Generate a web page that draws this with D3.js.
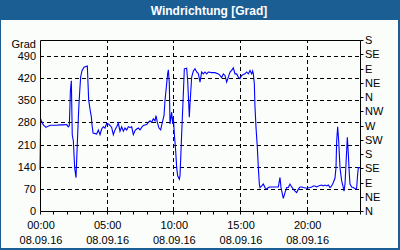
<!DOCTYPE html>
<html><head><meta charset="utf-8">
<script src="https://cdn.jsdelivr.net/npm/d3@7"></script>
<style>
html,body{margin:0;padding:0;background:#fff;}
svg{display:block;}
text{font-family:"Liberation Sans",Arial,sans-serif;font-size:11px;fill:#000;}
</style></head>
<body>
<svg id="c" width="400" height="250"></svg>
<script>
const title = "Windrichtung [Grad]";
const yUnit = "Grad";
const leftTicks = [0,70,140,210,280,350,420,490];
const rightTickValues = [0,45,90,135,180,225,270,315,360,405,450,495,540];
const rightTickLabels = ["N","NE","E","SE","S","SW","W","NW","N","NE","E","SE","S"];
const xTickHours = [0,5,10,15,20];
const xTickLabels = ["00:00","05:00","10:00","15:00","20:00"];
const xDateLabel = "08.09.16";

// time in hours of day (08.09.16)
const hours = [0,0.05,0.1,0.25,0.45,0.6,0.8,1.0,1.25,1.5,1.75,2.0,2.125,2.2,2.28,2.35,2.42,2.5,2.6,2.7,2.8,2.9,2.97,3.05,3.15,3.3,3.55,3.6,3.65,3.78,3.85,3.9,3.98,4.25,4.375,4.5,4.625,4.75,4.875,5.0,5.125,5.25,5.375,5.5,5.625,5.75,5.875,6.0,6.125,6.25,6.375,6.5,6.625,6.75,6.875,7.0,7.125,7.25,7.375,7.5,7.625,7.75,8.0,8.125,8.25,8.375,8.5,8.625,8.7,8.8,8.925,9.05,9.175,9.3,9.375,9.5,9.575,9.625,9.7,9.75,9.875,9.95,10.0,10.075,10.175,10.25,10.325,10.45,10.5,10.625,10.75,10.825,11.0,11.075,11.2,11.25,11.375,11.5,11.625,11.75,11.875,11.95,
12.0,12.125,12.25,12.375,12.5,12.625,12.875,13.125,13.375,13.5,13.625,13.75,13.875,14.0,14.125,14.25,14.375,14.5,14.625,14.75,14.875,15.0,15.125,15.25,15.375,15.5,15.625,15.75,15.875,15.95,16.0,16.075,16.125,16.2,16.3,16.375,16.45,16.5,16.625,16.75,16.875,17.0,17.125,17.25,17.5,17.75,17.875,18.0,18.075,18.25,18.375,18.5,18.625,18.75,18.875,19.0,19.125,19.25,19.375,19.5,19.625,19.75,20.0,20.25,20.375,20.5,20.625,20.75,20.875,21.125,21.25,21.375,21.5,21.625,21.75,21.875,22.0,22.125,22.2,22.25,22.325,22.4,22.5,22.625,22.75,22.8,22.875,22.95,23.05,23.125,23.2,23.25,23.375,23.5,23.7,23.75,23.825,23.875,24.0];
const direction = [130,291,285,272,264,268,271,271,271,272,272,273,266,270,380,411,240,222,137,105,214,319,372,424,443,454,458,404,351,314,298,272,246,243,256,241,259,266,262,277,275,270,264,241,256,266,277,252,266,252,262,256,266,264,266,241,254,259,262,256,264,270,273,280,285,280,291,285,301,280,262,256,280,301,349,402,434,446,402,275,312,275,296,243,190,137,111,100,111,243,370,449,451,412,296,338,423,442,449,439,434,418,
407,439,433,439,433,439,437,437,433,428,421,433,428,407,423,439,444,452,433,433,423,418,428,431,433,439,433,444,433,442,433,402,328,264,201,137,85,74,79,85,74,69,74,76,76,76,76,106,74,40,58,74,74,85,76,69,63,58,69,76,76,74,72,74,76,79,79,76,79,82,79,82,79,82,74,79,90,104,137,222,266,222,137,95,74,63,85,148,233,180,116,85,76,74,69,74,116,137,137];

const svg = d3.select("#c");
const W = 400, H = 250;
const blue = "#1b5e94";

// frame and title bar
svg.append("rect").attr("x",0).attr("y",0).attr("width",W).attr("height",H).attr("fill",blue);
svg.append("rect").attr("x",1).attr("y",20).attr("width",W-3).attr("height",H-22).attr("fill","#fbfdfb");
svg.append("text").attr("x",209).attr("y",14.5).attr("text-anchor","middle")
  .style("font-weight","bold").style("font-size","12px").style("fill","#fff").text(title);

const x = d3.scaleLinear().domain([0,24]).range([40,360]);
const y = d3.scaleLinear().domain([0,540]).range([211,40]);

const g = svg.append("g");
// grid
g.selectAll(".hg").data(leftTicks.filter(d=>d>0)).enter().append("line")
  .attr("x1",x(0)).attr("x2",x(24)).attr("y1",d=>Math.round(y(d))+0.5).attr("y2",d=>Math.round(y(d))+0.5)
  .attr("stroke","#000").attr("stroke-dasharray","4,3");
g.selectAll(".vg").data(xTickHours.filter(d=>d>0)).enter().append("line")
  .attr("y1",y(0)).attr("y2",y(540)).attr("x1",d=>Math.round(x(d))+0.5).attr("x2",d=>Math.round(x(d))+0.5)
  .attr("stroke","#000").attr("stroke-dasharray","4,3");

// data line
const line = d3.line().x((d,i)=>x(hours[i])).y(d=>y(d));
g.append("path").datum(direction).attr("d",line).attr("fill","none").attr("stroke","#0000ff").attr("stroke-width",1.1);

// plot borders
const L = 40.5, R = 360.5, T = 40.5, B = 211.5;
g.append("path").attr("d",`M${L},${T}H${R}V${B}H${L}Z`).attr("fill","none").attr("stroke","#000");

// bottom minor ticks every hour
g.selectAll(".xt").data(d3.range(0,25)).enter().append("line")
  .attr("x1",d=>Math.round(x(d))+0.5).attr("x2",d=>Math.round(x(d))+0.5).attr("y1",B).attr("y2",B+3)
  .attr("stroke","#000");
// right ticks
g.selectAll(".rt").data(rightTickValues).enter().append("line")
  .attr("x1",R).attr("x2",R+3).attr("y1",d=>Math.round(y(d))+0.5).attr("y2",d=>Math.round(y(d))+0.5)
  .attr("stroke","#000");

// left labels
g.selectAll(".ll").data(leftTicks).enter().append("text")
  .attr("x",36).attr("y",d=>y(d)+4).attr("text-anchor","end").text(d=>d);
g.append("text").attr("x",36).attr("y",47.5).attr("text-anchor","end").text(yUnit);
// right labels
g.selectAll(".rl").data(rightTickValues).enter().append("text")
  .attr("x",365).attr("y",d=>y(d)+4).text((d,i)=>rightTickLabels[i]);
// x labels
g.selectAll(".xl").data(xTickHours).enter().append("text")
  .attr("x",d=>x(d)+1).attr("y",229).attr("text-anchor","middle").text((d,i)=>xTickLabels[i]);
g.selectAll(".xd").data(xTickHours).enter().append("text")
  .attr("x",d=>x(d)+1).attr("y",243.5).attr("text-anchor","middle").text(xDateLabel);
</script>
</body></html>
